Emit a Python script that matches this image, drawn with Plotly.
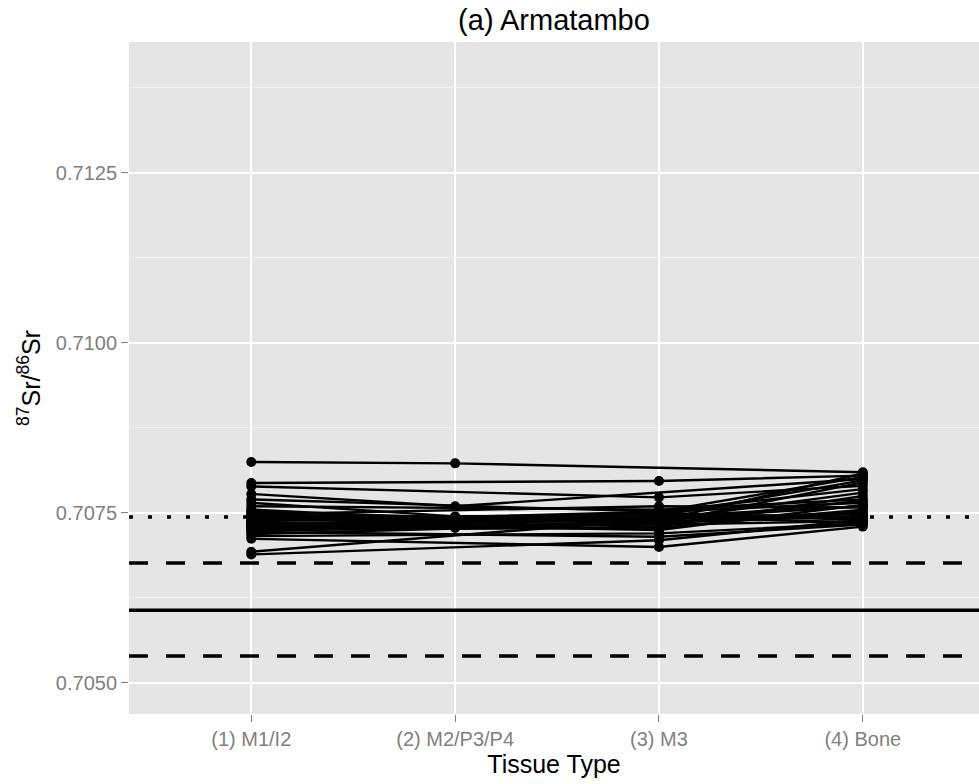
import plotly.graph_objects as go

# ---- data ----
tissue_types = ["(1) M1/I2", "(2) M2/P3/P4", "(3) M3", "(4) Bone"]

# 87Sr/86Sr per individual: [M1/I2, M2/P3/P4, M3, Bone]; None = not sampled
individuals = [
    [0.70825, 0.70823, None, 0.70810],
    [0.70794, None, 0.70797, 0.70805],
    [0.70789, None, 0.70773, 0.70790],
    [0.70778, 0.70760, None, 0.70800],
    [0.70770, None, 0.70752, 0.70785],
    [0.70765, 0.70745, 0.70740, 0.70780],
    [0.70760, None, 0.70755, 0.70770],
    [0.70755, 0.70740, 0.70745, 0.70760],
    [0.70752, None, 0.70735, 0.70795],
    [0.70750, 0.70738, None, 0.70765],
    [0.70748, None, 0.70760, 0.70758],
    [0.70746, None, 0.70742, 0.70745],
    [0.70744, 0.70735, 0.70730, 0.70775],
    [0.70742, None, 0.70748, 0.70740],
    [0.70740, None, 0.70737, 0.70752],
    [0.70739, 0.70744, 0.70752, 0.70803],
    [0.70738, 0.70742, None, 0.70748],
    [0.70736, None, 0.70725, 0.70762],
    [0.70734, None, 0.70744, 0.70736],
    [0.70733, None, 0.70739, 0.70808],
    [0.70732, 0.70730, 0.70738, 0.70768],
    [0.70730, None, 0.70750, 0.70742],
    [0.70729, 0.70733, 0.70746, 0.70798],
    [0.70728, None, 0.70733, 0.70738],
    [0.70726, None, 0.70728, 0.70755],
    [0.70724, 0.70728, None, 0.70745],
    [0.70722, None, 0.70715, 0.70733],
    [0.70719, None, 0.70735, 0.70750],
    [0.70716, None, 0.70720, 0.70735],
    [0.70712, None, 0.70700, 0.70730],
    [0.70693, None, 0.70741, 0.70760],
    [0.70689, None, 0.70710, 0.70740],
]

local_mean = 0.70607
local_lower = 0.705397
local_upper = 0.706765
dotted_ref = 0.70744

y_ticks = [0.7050, 0.7075, 0.7100, 0.7125]
y_tick_text = ["0.7050", "0.7075", "0.7100", "0.7125"]

# ---- figure ----
x_pos = [1, 2, 3, 4]
x_lo, x_hi = 0.4, 4.57

fig = go.Figure()

ref_lines = [
    (dotted_ref, "4px,15px"),
    (local_upper, "19px,18px"),
    (local_lower, "19px,18px"),
    (local_mean, "solid"),
]
for val, dash in ref_lines:
    fig.add_trace(go.Scatter(
        x=[x_lo, x_hi], y=[val, val], mode="lines",
        line=dict(color="black", width=3.4, dash=dash),
        hoverinfo="skip", showlegend=False,
    ))

for vals in individuals:
    fig.add_trace(go.Scatter(
        x=x_pos, y=vals, mode="lines+markers", connectgaps=True,
        line=dict(color="black", width=2.4),
        marker=dict(color="black", size=10),
        showlegend=False,
    ))

font_family = "Liberation Sans, Arial, sans-serif"

fig.update_layout(
    width=979, height=784,
    margin=dict(l=129, r=0, t=42, b=70),
    paper_bgcolor="white",
    plot_bgcolor="#E5E5E5",
    font=dict(family=font_family),
    title=dict(
        text="(a) Armatambo",
        x=(129 + 979) / 2 / 979, xanchor="center", xref="container",
        y=1 - 20 / 784, yanchor="middle", yref="container",
        font=dict(size=29, color="black", family=font_family),
    ),
    xaxis=dict(
        range=[x_lo, x_hi],
        tickvals=x_pos, ticktext=tissue_types,
        showgrid=True, gridcolor="white", gridwidth=1.6,
        zeroline=False, showline=False,
        ticks="outside", ticklen=7, tickwidth=1.2, tickcolor="#7F7F7F",
        tickfont=dict(size=20, color="#7F7F7F"),
        title=dict(text="Tissue Type", font=dict(size=25, color="black"), standoff=2),
    ),
    yaxis=dict(
        range=[0.704544, 0.714426],
        tickvals=y_ticks, ticktext=y_tick_text,
        showgrid=True, gridcolor="white", gridwidth=1.6,
        minor=dict(tickvals=[0.70625, 0.70875, 0.71125, 0.71375],
                   showgrid=True, gridcolor="#F2F2F2", gridwidth=0.8, ticks=""),
        zeroline=False, showline=False,
        ticks="outside", ticklen=7, tickwidth=1.2, tickcolor="#7F7F7F",
        tickfont=dict(size=20, color="#7F7F7F"),
        title=dict(text="<sup>87</sup>Sr/<sup>86</sup>Sr", font=dict(size=25, color="black"), standoff=8),
    ),
)

fig.write_html("out.html")
